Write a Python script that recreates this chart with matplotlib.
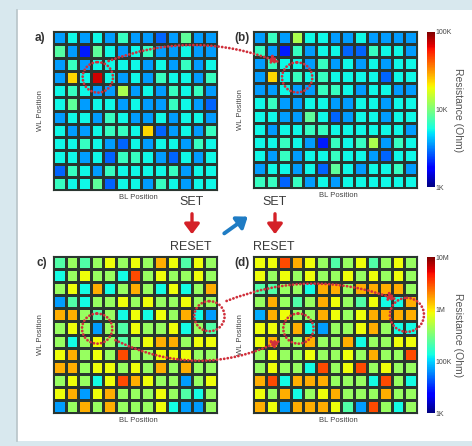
import numpy as np
import matplotlib
matplotlib.use("Agg")
import matplotlib.pyplot as plt
from matplotlib.colors import LogNorm, FuncNorm
from matplotlib.patches import Rectangle, Ellipse, FancyArrowPatch

plt.rcParams['font.family'] = ['Liberation Sans', 'DejaVu Sans']

# resistance maps, kOhm, 12 WL rows x 13 BL columns
set_a = [
    [3.6, 5.5, 3.6, 5.5, 3.6, 6.8, 3.6, 3.6, 2.8, 3.6, 8.5, 3.6, 3.6],
    [8.0, 3.6, 2.0, 8.5, 5.5, 3.6, 5.5, 6.8, 3.6, 3.6, 5.5, 3.6, 3.6],
    [3.6, 6.8, 3.6, 5.5, 5.5, 5.5, 5.5, 3.6, 5.5, 3.6, 6.8, 3.6, 5.5],
    [3.6, 23, 5.5, 72, 5.5, 3.6, 5.5, 3.6, 6.8, 5.5, 5.5, 3.6, 6.8],
    [5.5, 6.8, 5.5, 3.6, 3.6, 13, 3.6, 5.5, 3.6, 6.8, 5.5, 6.8, 3.6],
    [5.5, 8.5, 3.6, 5.5, 5.5, 3.6, 5.5, 3.6, 3.6, 6.8, 5.5, 3.6, 2.8],
    [3.6, 5.5, 5.5, 3.6, 6.8, 5.5, 3.6, 3.6, 5.5, 3.6, 5.5, 5.5, 3.6],
    [5.5, 3.6, 3.6, 5.5, 6.8, 6.8, 5.5, 23, 2.8, 3.6, 5.5, 3.6, 6.8],
    [5.5, 5.5, 6.8, 5.5, 3.6, 2.8, 5.5, 3.6, 5.5, 5.5, 3.6, 6.8, 5.5],
    [5.5, 5.5, 3.6, 5.5, 2.8, 6.8, 6.8, 5.5, 3.6, 2.8, 5.5, 3.6, 5.5],
    [2.8, 6.8, 5.5, 3.6, 6.8, 5.5, 5.5, 5.5, 5.5, 6.8, 3.6, 5.5, 5.5],
    [6.8, 5.5, 5.5, 8.5, 2.8, 5.5, 5.5, 3.6, 6.8, 5.5, 3.6, 5.5, 5.5],
]
set_b = [
    [3.6, 6.8, 3.6, 13, 5.5, 5.5, 3.6, 3.6, 5.5, 3.6, 3.6, 3.6, 3.6],
    [6.8, 3.6, 2.0, 6.8, 3.6, 5.5, 5.5, 2.8, 2.8, 6.8, 5.5, 5.5, 3.6],
    [3.6, 6.8, 5.5, 5.5, 3.6, 6.8, 3.6, 5.5, 3.6, 5.5, 3.6, 5.5, 5.5],
    [3.6, 23, 5.5, 6.8, 5.5, 6.8, 5.5, 5.5, 5.5, 5.5, 2.8, 5.5, 5.5],
    [3.6, 3.6, 5.5, 3.6, 3.6, 6.8, 6.8, 5.5, 3.6, 5.5, 5.5, 3.6, 3.6],
    [5.5, 6.8, 3.6, 3.6, 5.5, 5.5, 3.6, 3.6, 5.5, 5.5, 3.6, 5.5, 5.5],
    [5.5, 5.5, 3.6, 3.6, 8.5, 5.5, 2.8, 3.6, 5.5, 5.5, 3.6, 5.5, 5.5],
    [5.5, 3.6, 5.5, 5.5, 6.8, 6.8, 5.5, 5.5, 5.5, 5.5, 5.5, 5.5, 3.6],
    [5.5, 5.5, 6.8, 5.5, 3.6, 2.0, 6.8, 5.5, 6.8, 13, 3.6, 6.8, 5.5],
    [5.5, 3.6, 6.8, 3.6, 5.5, 5.5, 6.8, 5.5, 5.5, 3.6, 2.8, 5.5, 5.5],
    [3.6, 5.5, 5.5, 3.6, 5.5, 2.8, 8.5, 5.5, 3.6, 5.5, 5.5, 6.8, 3.6],
    [6.8, 6.8, 2.8, 6.8, 3.6, 5.5, 3.6, 5.5, 5.5, 5.5, 5.5, 5.5, 5.5],
]
reset_c = [
    [220, 400, 220, 400, 830, 400, 830, 400, 1500, 830, 220, 830, 400],
    [130, 400, 830, 400, 400, 130, 3100, 400, 830, 400, 400, 830, 400],
    [400, 830, 130, 1500, 130, 400, 1500, 400, 130, 830, 130, 400, 1500],
    [48, 220, 130, 400, 400, 830, 400, 830, 400, 400, 830, 400, 400],
    [1500, 1500, 400, 220, 400, 130, 830, 130, 830, 400, 1500, 130, 48],
    [400, 830, 400, 48, 400, 220, 830, 400, 400, 830, 130, 400, 220],
    [400, 130, 400, 830, 400, 220, 400, 830, 1500, 1500, 400, 830, 830],
    [830, 1500, 400, 830, 400, 3100, 400, 400, 830, 830, 830, 400, 400],
    [1500, 1500, 400, 830, 830, 400, 830, 400, 1500, 400, 1500, 400, 400],
    [400, 830, 400, 130, 830, 3100, 1500, 830, 400, 400, 48, 400, 830],
    [830, 1500, 48, 830, 1500, 400, 400, 400, 830, 400, 220, 130, 400],
    [48, 400, 1500, 400, 1500, 400, 400, 400, 830, 130, 48, 48, 400],
]
reset_d = [
    [830, 830, 3100, 1500, 830, 400, 220, 400, 830, 220, 400, 830, 400],
    [830, 400, 830, 400, 830, 400, 400, 830, 400, 830, 400, 830, 400],
    [220, 220, 400, 400, 130, 1500, 1500, 400, 1500, 1500, 1500, 1500, 400],
    [400, 1500, 400, 220, 400, 1500, 830, 400, 220, 830, 130, 130, 1500],
    [60, 1500, 830, 400, 400, 1500, 830, 400, 830, 1500, 1500, 1500, 1500],
    [830, 830, 400, 1500, 130, 48, 400, 400, 830, 1500, 400, 130, 130],
    [830, 1500, 400, 400, 1500, 400, 400, 1500, 130, 400, 400, 830, 830],
    [400, 830, 400, 400, 830, 400, 400, 830, 400, 1500, 400, 400, 3100],
    [400, 830, 400, 400, 130, 3100, 400, 830, 3100, 400, 830, 400, 400],
    [1500, 3100, 130, 1500, 1500, 1500, 400, 400, 400, 130, 3100, 400, 130],
    [830, 400, 1500, 130, 400, 830, 1500, 400, 400, 400, 1500, 400, 400],
    [1500, 830, 48, 1500, 1500, 1500, 830, 220, 48, 3100, 400, 130, 400],
]

set_ticks = [1e3, 1e4, 1e5]
set_ticklabels = ['1K', '10K', '100K']
reset_ticks = [1e3, 1e5, 1e6, 1e7]
reset_ticklabels = ['1K', '100K', '1M', '10M']

W, H = 472, 446
fig = plt.figure(figsize=(W / 100, H / 100), dpi=100)
fig.patch.set_facecolor('#d8e8ee')


def fx(x):
    return x / W


def fy(y):
    return 1 - y / H


# white page
fig.add_artist(Rectangle((fx(17), fy(441)), 1 - fx(17), (441 - 10) / H,
                         transform=fig.transFigure, facecolor='white',
                         edgecolor='none', zorder=0))
fig.add_artist(plt.Line2D([fx(16.5), fx(16.5)], [fy(441), fy(10)],
                          transform=fig.transFigure, color='#b8c4c8', lw=1.2, zorder=0))

norm_set = LogNorm(vmin=1e3, vmax=1e5)
# colour bar of the RESET maps is not evenly spaced in decades
lg_pts = [3, 5, 6, 7]
fr_pts = [0, 1 / 3, 2 / 3, 1]
norm_reset = FuncNorm((lambda v: np.interp(np.log10(v), lg_pts, fr_pts),
                       lambda f: 10 ** np.interp(f, fr_pts, lg_pts)),
                      vmin=1e3, vmax=1e7)

panels = [
    (set_a, norm_set, (53, 31, 164, 159), 'a)', (40, 38)),
    (set_b, norm_set, (253, 31, 164, 157), '(b)', (242, 38)),
    (reset_c, norm_reset, (53, 256, 164, 157), 'c)', (42, 263)),
    (reset_d, norm_reset, (253, 256, 164, 157), '(d)', (242, 263)),
]

axes = []
meshes = []
for data, norm, (x0, y0, w, h), lab, (lx, ly) in panels:
    ax = fig.add_axes([fx(x0), fy(y0 + h), w / W, h / H])
    m = ax.pcolormesh(np.array(data) * 1e3, cmap='jet', norm=norm,
                      edgecolors='#2a3630', linewidth=0.75)
    ax.set_xlim(0, 13)
    ax.set_ylim(12, 0)
    ax.set_xticks([])
    ax.set_yticks([])
    for s in ax.spines.values():
        s.set_color('#2a3630')
        s.set_linewidth(0.8)
    fig.text(fx(lx), fy(ly), lab, fontsize=8.5, fontweight='bold',
             color='#333333', ha='center', va='center')
    fig.text(fx(x0 - 13), fy(y0 + h * 0.5), 'WL Position', rotation=90,
             fontsize=5.5, color='#444444', ha='center', va='center')
    fig.text(fx(x0 + w * 0.5 + 3), fy(y0 + h + 7), 'BL Position',
             fontsize=5.5, color='#444444', ha='center', va='center')
    axes.append(ax)
    meshes.append(m)

# colour bars
for m, (y0, h), ticks, labels, ytxt in [
        (meshes[1], (32, 155), set_ticks, set_ticklabels, 110),
        (meshes[3], (257, 156), reset_ticks, reset_ticklabels, 335)]:
    cax = fig.add_axes([fx(427), fy(y0 + h), 8 / W, h / H])
    cb = fig.colorbar(m, cax=cax)
    cb.set_ticks(ticks)
    cb.set_ticklabels(labels)
    cb.minorticks_off()
    cb.outline.set_visible(False)
    cax.tick_params(length=0, labelsize=5, pad=0.5, colors='#444444')
    fig.text(fx(458), fy(ytxt), 'Resistance (Ohm)', rotation=-90,
             fontsize=7.5, color='#555555', ha='center', va='center')

# dotted circles
red = '#d0303c'
dots = (0, (0.05, 1.25))
circles = [(0, 3.55, 3.5, 2.4, 2.3), (1, 3.5, 3.55, 2.4, 2.3),
           (2, 3.5, 5.55, 2.4, 2.3), (2, 12.4, 4.6, 2.4, 2.3),
           (3, 3.6, 5.55, 2.4, 2.3), (3, 12.2, 4.5, 2.7, 2.6)]
for i, cx, cy, ew, eh in circles:
    e = Ellipse((cx, cy), ew, eh, facecolor='none', edgecolor=red, lw=2.0,
                linestyle=dots, clip_on=False, zorder=5)
    e.set_capstyle('round')
    axes[i].add_patch(e)

# dotted links between the same cells
links = [((106, 62), (283, 64), -0.2),
         ((224, 302), (400, 301), -0.2),
         ((113, 339), (284, 339), 0.25)]
for (xa, ya), (xb, yb), rad in links:
    a = FancyArrowPatch((fx(xa), fy(ya)), (fx(xb), fy(yb)),
                        transform=fig.transFigure,
                        connectionstyle='arc3,rad=%s' % rad,
                        arrowstyle='-|>,head_length=0.5,head_width=0.25',
                        mutation_scale=10, color=red, lw=2.0,
                        linestyle=dots, zorder=6)
    a.set_capstyle('round')
    fig.add_artist(a)

# SET / RESET arrows
for x in (192, 275):
    fig.text(fx(x), fy(202), 'SET', fontsize=9, color='#3a3a3a',
             ha='center', va='center')
    fig.text(fx(x - 1), fy(247), 'RESET', fontsize=9, color='#3a3a3a',
             ha='center', va='center')
    fig.add_artist(FancyArrowPatch((fx(x), fy(211)), (fx(x), fy(237)),
                                   transform=fig.transFigure,
                                   arrowstyle='-|>,head_length=0.6,head_width=0.45',
                                   mutation_scale=10, color='#d42027', lw=2.4))
fig.add_artist(FancyArrowPatch((fx(222), fy(235)), (fx(250), fy(215)),
                               transform=fig.transFigure,
                               arrowstyle='-|>,head_length=0.6,head_width=0.45',
                               mutation_scale=10, color='#1f7cc4', lw=2.8))

fig.savefig('out.png', dpi=100, facecolor=fig.get_facecolor())
